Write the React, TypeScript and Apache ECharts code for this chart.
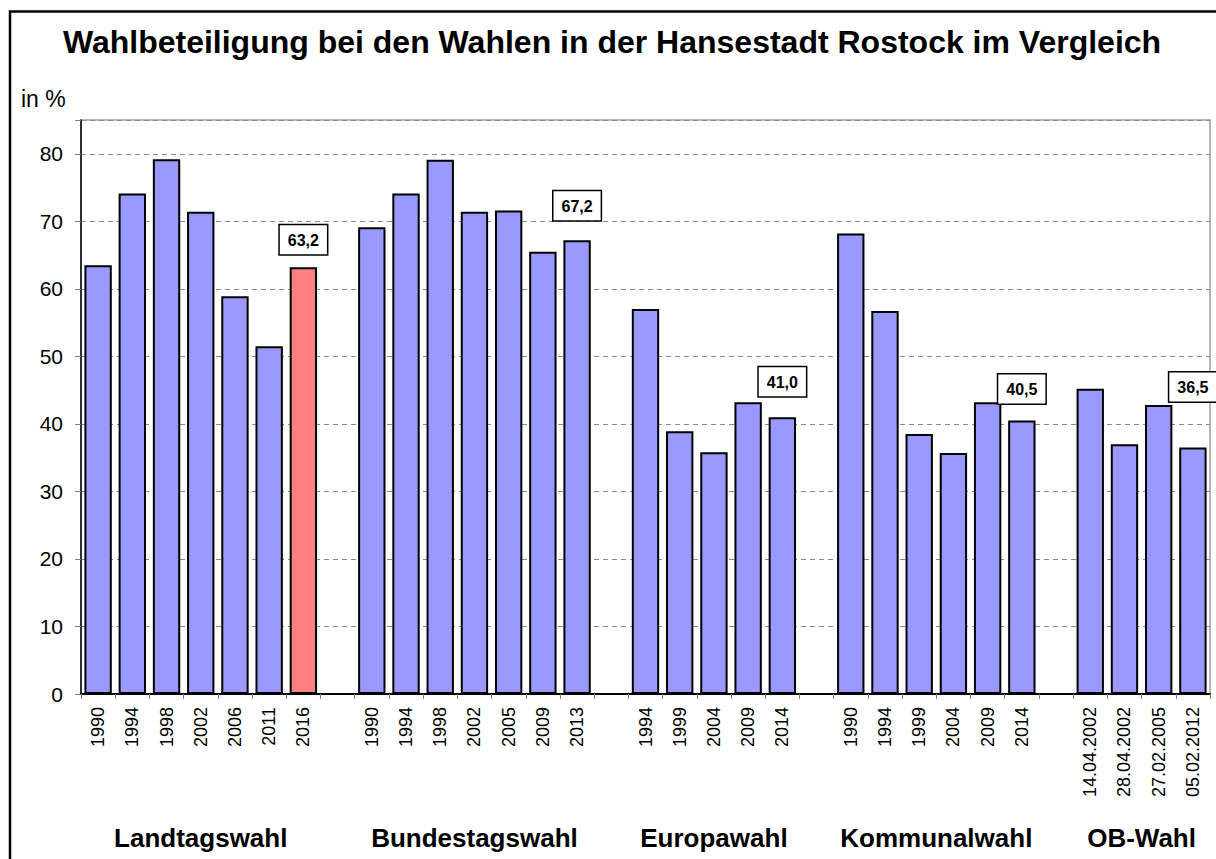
import React, { useEffect, useRef } from "react";
import * as echarts from "echarts";

const titleText = "Wahlbeteiligung bei den Wahlen in der Hansestadt Rostock im Vergleich";
const unitText = "in %";
const groupNames = ["Landtagswahl", "Bundestagswahl", "Europawahl", "Kommunalwahl", "OB-Wahl"];

const landtagLabels = ["1990", "1994", "1998", "2002", "2006", "2011", "2016"];
const landtagValues = [63.5, 74.1, 79.2, 71.4, 58.9, 51.5, 63.2];

const bundestagLabels = ["1990", "1994", "1998", "2002", "2005", "2009", "2013"];
const bundestagValues = [69.1, 74.1, 79.1, 71.4, 71.6, 65.5, 67.2];

const europaLabels = ["1994", "1999", "2004", "2009", "2014"];
const europaValues = [57.0, 38.9, 35.8, 43.2, 41.0];

const kommunalLabels = ["1990", "1994", "1999", "2004", "2009", "2014"];
const kommunalValues = [68.2, 56.7, 38.5, 35.7, 43.2, 40.5];

const obLabels = ["14.04.2002", "28.04.2002", "27.02.2005", "05.02.2012"];
const obValues = [45.2, 37.0, 42.8, 36.5];

const yTicks = [0, 10, 20, 30, 40, 50, 60, 70, 80];

// label distances above the last bar of each group (style only)
const labelDistances = [13, 20, 21, 17, 46];

const BLUE = "#9999FF";
const RED = "#FF8080";
const FONT = "'Liberation Sans', Arial, sans-serif";

export default function App() {
  const ref = useRef<HTMLDivElement>(null);

  useEffect(() => {
    if (!ref.current) return;
    const chart = echarts.init(ref.current, undefined, { renderer: "svg" });

    const groupLabels = [landtagLabels, bundestagLabels, europaLabels, kommunalLabels, obLabels];
    const groupValues = [landtagValues, bundestagValues, europaValues, kommunalValues, obValues];

    const categories: string[] = [];
    const data: any[] = [];
    const groupRanges: [number, number][] = [];
    groupLabels.forEach((labels, g) => {
      if (g > 0) {
        categories.push("");
        data.push("-");
      }
      const start = categories.length;
      labels.forEach((lab, i) => {
        categories.push(lab);
        const v = groupValues[g][i];
        const isLast = i === labels.length - 1;
        const item: any = { value: v };
        if (g === 0 && isLast) item.itemStyle = { color: RED };
        if (isLast) {
          item.label = {
            show: true,
            position: "top",
            distance: labelDistances[g],
            formatter: (p: any) => Number(p.value).toFixed(1).replace(".", ","),
          };
        }
        data.push(item);
      });
      groupRanges.push([start, categories.length - 1]);
    });

    const baseGraphic: any[] = [
      {
        type: "rect",
        id: "frame",
        shape: { x: 10, y: 11.5, width: 1230, height: 900 },
        style: { fill: "none", stroke: "#000", lineWidth: 2.5 },
        silent: true,
      },
      {
        type: "text",
        id: "title",
        x: 612,
        y: 42,
        style: {
          text: titleText,
          fill: "#000",
          font: "bold 32px " + FONT,
          textAlign: "center",
          textVerticalAlign: "middle",
        },
      },
      {
        type: "text",
        id: "unit",
        x: 21,
        y: 99,
        style: {
          text: unitText,
          fill: "#000",
          font: "23px " + FONT,
          textAlign: "left",
          textVerticalAlign: "middle",
        },
      },
    ];

    chart.setOption({
      animation: false,
      backgroundColor: "#fff",
      grid: {
        left: 81,
        top: 120,
        right: 6,
        bottom: 165,
        show: true,
        borderColor: "#a0a0a0",
        borderWidth: 1.5,
        backgroundColor: "transparent",
      },
      xAxis: {
        type: "category",
        data: categories,
        axisLine: { lineStyle: { color: "#000", width: 2 } },
        axisTick: { show: true, length: 5, lineStyle: { color: "#808080", width: 1 } },
        axisLabel: {
          rotate: 90,
          interval: 0,
          margin: 13,
          color: "#000",
          fontSize: 18,
          fontFamily: FONT,
        },
        splitLine: { show: false },
      },
      yAxis: {
        type: "value",
        min: 0,
        max: 85,
        interval: 10,
        axisLine: { show: true, lineStyle: { color: "#000", width: 1.5 } },
        axisTick: { show: true, length: 6, lineStyle: { color: "#808080" } },
        axisLabel: {
          color: "#000",
          fontSize: 21,
          margin: 18,
          fontFamily: FONT,
          formatter: (v: number) => (yTicks.indexOf(v) >= 0 ? String(v) : ""),
        },
        splitLine: { show: true, lineStyle: { color: "#8c8c8c", type: [5, 4], width: 1.2 } },
      },
      series: [
        {
          type: "bar",
          data,
          barCategoryGap: "20%",
          itemStyle: { color: BLUE, borderColor: "#000", borderWidth: 2 },
          label: {
            show: false,
            color: "#000",
            fontWeight: "bold",
            fontSize: 16,
            fontFamily: "'Liberation Sans Narrow', 'Arial Narrow', " + FONT,
            backgroundColor: "#fff",
            borderColor: "#000",
            borderWidth: 1.5,
            padding: [7, 8, 6, 8],
          },
          emphasis: { disabled: true },
        },
      ],
      graphic: baseGraphic,
    });

    const groupGraphic = groupRanges.map(([s, e], g) => {
      const x0 = chart.convertToPixel({ xAxisIndex: 0 }, s) as number;
      const x1 = chart.convertToPixel({ xAxisIndex: 0 }, e) as number;
      return {
        type: "text",
        id: "group" + g,
        x: (x0 + x1) / 2,
        y: 838,
        style: {
          text: groupNames[g],
          fill: "#000",
          font: "bold 26px " + FONT,
          textAlign: "center",
          textVerticalAlign: "middle",
        },
      };
    });
    chart.setOption({ graphic: [...baseGraphic, ...groupGraphic] });

    return () => chart.dispose();
  }, []);

  return (
    <div
      ref={ref}
      style={{ position: "fixed", left: 0, top: 0, width: 1216, height: 859 }}
    />
  );
}
